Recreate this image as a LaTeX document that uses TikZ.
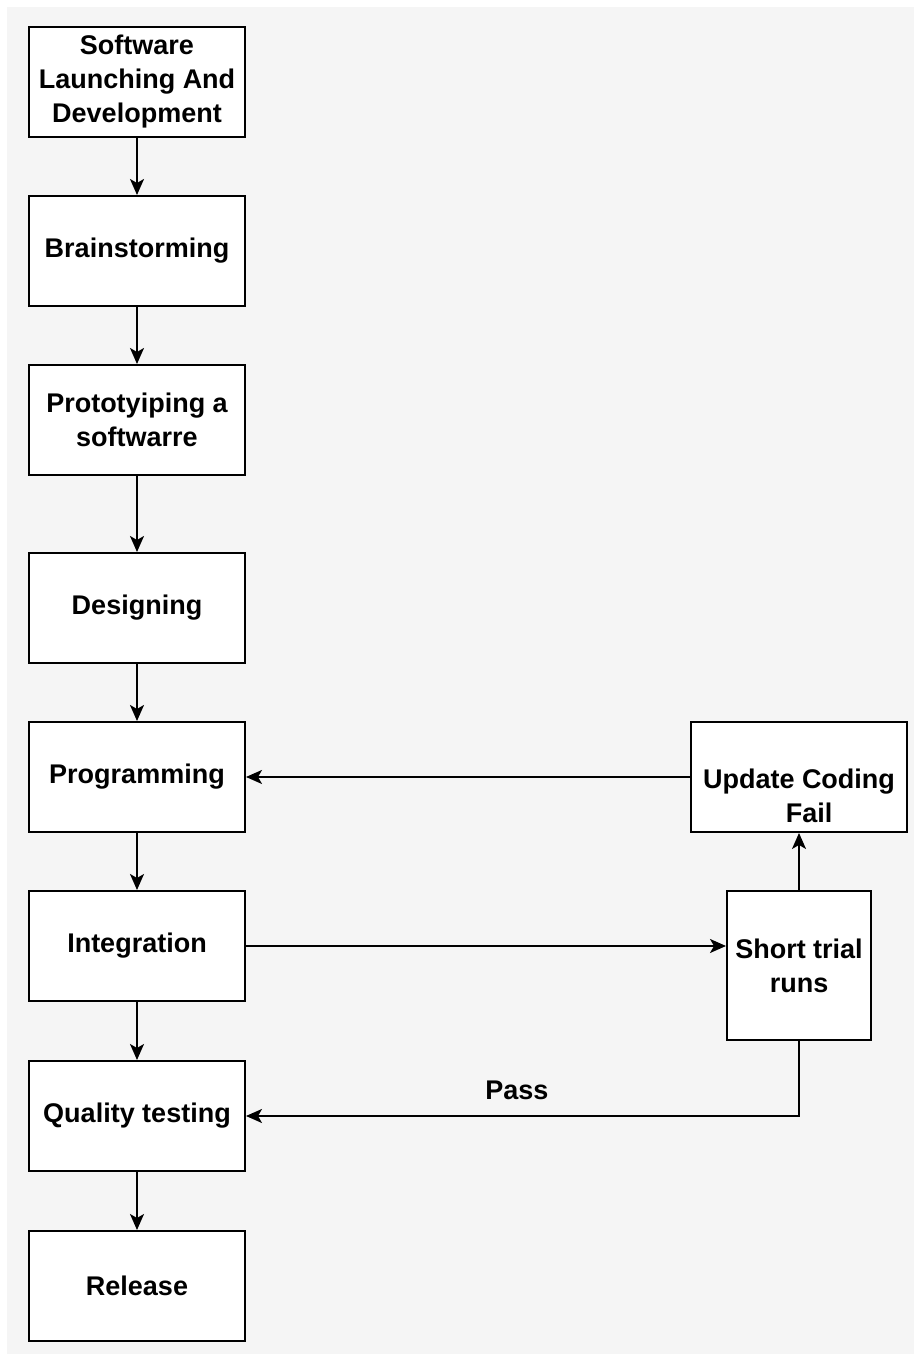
\documentclass[tikz,border=0pt]{standalone}
\usepackage{fontspec}
\setmainfont{Liberation Sans}
\usetikzlibrary{
  positioning,
  arrows.meta,
  backgrounds
}
\definecolor{canvas}{HTML}{F5F5F5}

\begin{document}
\begin{tikzpicture}[
    x=1pt, y=1pt,
    font=\bfseries\fontsize{27}{34}\selectfont,
    >={Stealth[length=16pt,width=14pt,inset=4pt]},
    node distance=57pt,
    stage/.style={
      draw=black, fill=white,
      line width=2pt,
      minimum width=216pt,
      minimum height=110pt,
      align=center,
      inner sep=2pt
      },
    link/.style={->, line width=1.8pt}
    ]

\useasboundingbox (0,0) rectangle (914,1354);
\fill[canvas] (7,0) rectangle (914,1347);

\node[stage] (launch) at (137,1272) {Software\\Launching And\\Development};
\node[stage, below=of launch] (brain) {Brainstorming};
\node[stage, below=of brain] (proto) {Prototyiping a\\softwarre};
\node[stage, below=76pt of proto] (design) {Designing};
\node[stage, below=of design] (prog) {Programming};
\node[stage, below=of prog] (integ) {Integration};
\node[stage, below=58pt of integ] (quality) {Quality testing};
\node[stage, below=58pt of quality] (release) {Release};

\node[stage, right=444pt of prog] (update) {\mbox{}\\[24pt]Update Coding\\\hspace*{20pt}Fail};
\node[stage, minimum width=144pt, minimum height=149pt, below=of update] (trial) {Short trial\\runs};

\foreach \a/\b in {launch/brain, brain/proto, proto/design, design/prog,
                   prog/integ, integ/quality, quality/release}
  \draw[link] (\a) -- (\b);

\draw[link] (update.west) -- (prog.east);
\draw[link] (integ.east) -- (integ.east -| trial.west);
\draw[link] (trial) -- (update);
\draw[link] (trial.south) |- (quality.east) node[pos=0.755, above=12pt] {Pass};
\end{tikzpicture}
\end{document}
